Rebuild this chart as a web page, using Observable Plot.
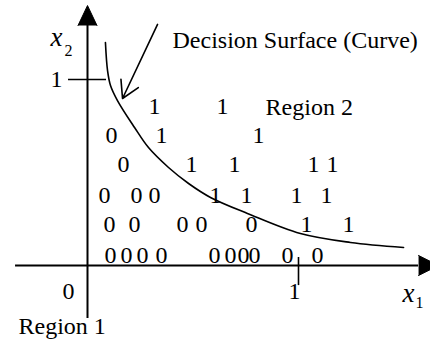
<!DOCTYPE html>
<html><head><meta charset="utf-8">
<script src="https://cdn.jsdelivr.net/npm/d3@7"></script>
<script src="https://cdn.jsdelivr.net/npm/@observablehq/plot@0.6"></script>
<style>body{margin:0;background:#fff;} svg{display:block} svg text{font-family:"Liberation Serif", Tinos, "Times New Roman", Times, "DejaVu Serif", serif !important;}</style>
</head><body><div id="chart"></div>
<script>
// Class-0 samples
const zeroX = [0.114, 0.171, 0.081, 0.232, 0.318, 0.104, 0.223, 0.450, 0.540, 0.777, 0.109, 0.185, 0.261, 0.351, 0.602, 0.678, 0.739, 0.791, 0.948, 1.090];
const zeroY = [0.699, 0.543, 0.376, 0.376, 0.376, 0.220, 0.220, 0.220, 0.220, 0.220, 0.054, 0.054, 0.054, 0.054, 0.054, 0.054, 0.054, 0.054, 0.054, 0.054];
// Class-1 samples
const oneX = [0.318, 0.640, 0.351, 0.810, 0.493, 0.697, 1.071, 1.161, 0.607, 0.754, 0.991, 1.133, 1.038, 1.237];
const oneY = [0.855, 0.855, 0.699, 0.699, 0.543, 0.543, 0.543, 0.543, 0.376, 0.376, 0.376, 0.376, 0.220, 0.220];
// Decision curve
const curveX = [0.085, 0.095, 0.109, 0.142, 0.223, 0.289, 0.384, 0.479, 0.583, 0.758, 1.009, 1.246, 1.498];
const curveY = [1.199, 1.048, 0.968, 0.887, 0.742, 0.634, 0.527, 0.441, 0.366, 0.280, 0.172, 0.124, 0.097];
// Pointer arrow (from label to curve)
const pointerX = [0.332, 0.166];
const pointerY = [1.296, 0.898];
// Annotations
const noteText = ["Decision Surface (Curve)", "Region 2", "Region 1"];
const noteX = [0.403, 0.844, -0.327];
const noteY = [1.212, 0.848, -0.328];
// Ticks
const xTicks = [1];
const yTicks = [1];
const originLabel = ["0"];
// Axis extents
const xAxisExtent = [-0.341, 1.569];
const yAxisExtent = [-0.285, 1.290];

const zeros = zeroX.map((x, i) => ({x, y: zeroY[i]}));
const ones = oneX.map((x, i) => ({x, y: oneY[i]}));
const curve = curveX.map((x, i) => ({x, y: curveY[i]}));
const notes = noteText.map((t, i) => ({t, x: noteX[i], y: noteY[i]}));

const serif = "'Liberation Serif', Tinos, 'Times New Roman', Times, 'DejaVu Serif', serif";
const chart = Plot.plot({
  width: 430, height: 344, margin: 0,
  x: {domain: [-87/211, 343/211], axis: null},
  y: {domain: [-79/186, 265/186], axis: null},
  style: {fontFamily: serif, background: "#fff", color: "#000"},
  marks: [
    Plot.ruleY([0], {x1: xAxisExtent[0], x2: xAxisExtent[1], strokeWidth: 2}),
    Plot.ruleX([0], {y1: yAxisExtent[0], y2: yAxisExtent[1], strokeWidth: 2}),
    Plot.vector([0], {x: xAxisExtent[1], y: 0, rotate: 90, length: 20, r: 10, shape: "spike", anchor: "start", fill: "black", stroke: "black", strokeWidth: 1}),
    Plot.vector([0], {x: 0, y: yAxisExtent[1], rotate: 0, length: 20, r: 9.5, shape: "spike", anchor: "start", fill: "black", stroke: "black", strokeWidth: 1}),
    Plot.ruleY(yTicks, {y: d => d, x1: -0.09, x2: 0.09, strokeWidth: 1.6}),
    Plot.ruleX(xTicks, {x: d => d, y1: 0.043, y2: -0.108, strokeWidth: 1.6}),
    Plot.line(curve, {x: "x", y: "y", curve: "catmull-rom", strokeWidth: 1.6}),
    Plot.arrow([0], {x1: pointerX[0], y1: pointerY[0], x2: pointerX[1], y2: pointerY[1], headLength: 18, headAngle: 60, strokeWidth: 1.6}),
    Plot.text(zeros, {x: "x", y: "y", text: () => "0", fontSize: 24, fontFamily: serif}),
    Plot.text(ones, {x: "x", y: "y", text: () => "1", fontSize: 24, fontFamily: serif}),
    Plot.text(notes, {x: "x", y: "y", text: "t", textAnchor: "start", fontSize: 24, fontFamily: serif}),
    Plot.text(xTicks, {x: d => d, y: 0, text: d => String(d), dx: -4, dy: 26, fontSize: 24, fontFamily: serif}),
    Plot.text(yTicks, {x: 0, y: d => d, text: d => String(d), dx: -31, fontSize: 24, fontFamily: serif}),
    Plot.text(originLabel, {x: 0, y: 0, text: d => d, dx: -19, dy: 26, fontSize: 24, fontFamily: serif}),
    // axis titles: italic x with subscripts
    Plot.text(["x"], {x: 1.521, y: -0.161, text: d => d, dy: -2, fontSize: 27, fontStyle: "italic", fontFamily: serif}),
    Plot.text(["1"], {x: 1.521, y: -0.161, text: d => d, dx: 11, dy: 7, fontSize: 16, fontFamily: serif}),
    Plot.text(["x"], {x: -0.147, y: 1.215, text: d => d, dy: -2, fontSize: 27, fontStyle: "italic", fontFamily: serif}),
    Plot.text(["2"], {x: -0.147, y: 1.215, text: d => d, dx: 12, dy: 11, fontSize: 16, fontFamily: serif})
  ]
});
document.getElementById("chart").append(chart);
</script>
</body></html>
